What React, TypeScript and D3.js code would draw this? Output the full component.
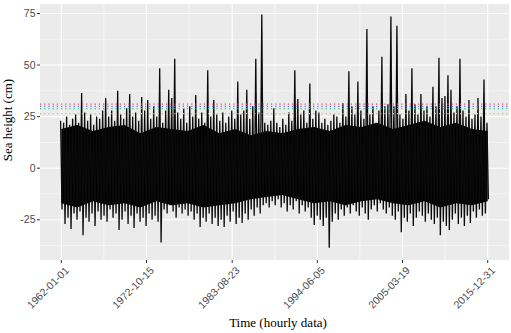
import React from "react";
import * as d3 from "d3";

// ---- data ----
const startDate = "1962-01-01";
const endDate = "2015-12-31";
const tickLabels = ["1962-01-01", "1972-10-15", "1983-08-23", "1994-06-05", "2005-03-19", "2015-12-31"];
const yTicks = [-25, 0, 25, 50, 75];
const yMinor = [-37.5, -12.5, 12.5, 37.5, 62.5];

// per-period maxima / minima of the hourly series (cm), evenly spaced in time from start to end
const seriesMax = [
  23, 22, 25, 21, 24, 26, 22, 36.5, 27, 23, 26, 21, 25, 24, 28, 34, 25, 28, 23, 37.5,
  26, 24, 29, 36, 25, 27, 23, 34.5, 28, 33, 24, 30, 25, 48.5, 22, 28, 38, 34, 53, 27,
  24, 29, 22, 30, 25, 35.5, 24, 27, 22, 47.5, 25, 33, 26, 23, 27, 22, 25, 28, 24, 42,
  26, 28, 38, 24, 30, 53, 27, 74.5, 22, 21, 23, 29, 22, 20, 24, 21, 27, 23, 47.5, 33.5,
  26, 28, 22, 41, 24, 28, 27, 22, 24, 21, 23, 26, 25, 22, 31.5, 25, 47, 30, 26, 42,
  28, 24, 67.5, 26, 30, 22, 28, 54, 30, 31, 73.5, 30, 69, 26, 24, 36, 28, 48.5, 31, 26,
  36, 28, 30, 25, 39.5, 30, 53.5, 34, 35, 45, 38, 27, 30, 53, 28, 25, 33, 24, 26, 34,
  25, 43, 22,
];
const seriesMin = [
  -20, -27, -24, -29.5, -22, -25, -21, -32.5, -24, -26, -22, -28, -21, -25, -23, -26, -20, -24, -22, -30,
  -25, -21, -27, -23, -29, -22, -26, -24, -28, -22, -25, -23, -26, -36, -20, -22, -18, -21, -24, -19,
  -22, -20, -23, -21, -25, -22, -28.5, -24, -26, -22, -27, -24, -28, -25, -28.5, -23, -26, -21, -27, -24,
  -26.5, -22, -25, -20, -23, -19, -22, -18, -17, -19, -16, -18, -15, -19, -17, -21, -18, -20, -16, -22,
  -18, -21, -19, -24, -27.5, -23, -25, -28, -24, -38.5, -26, -22, -25, -20, -23, -19, -22, -18, -21, -23,
  -19, -22, -25, -20, -18, -21, -17, -20, -22, -19, -23, -25, -21, -31, -24, -26, -22, -28, -24, -21,
  -23, -26, -22, -25, -27, -24, -32.5, -26, -28, -30, -25, -22, -27, -24, -28, -23, -26.5, -21, -24, -20,
  -23, -22, -15,
];
// dense (solid) core of the band, evenly spaced in time
const coreMax = [19, 21, 18, 20, 21, 17, 20, 19, 18, 21, 17, 19, 16, 18, 17, 19, 20, 18, 21, 20, 22, 19, 21, 23, 20, 22, 19, 18];
const coreMin = [-17, -19, -16, -18, -17, -19, -16, -18, -17, -19, -18, -17, -15, -14, -13, -15, -17, -16, -18, -16, -15, -17, -18, -16, -19, -17, -18, -16];

const thresholdValues = [31.1, 30.0, 28.9, 26.5];
const thresholdColors = ["#E8466A", "#5A6FE8", "#35C08A", "#F2B548"];

// ---- layout ----
const W = 511, H = 333;
const P = { left: 40, right: 509, top: 4, bottom: 260 };

export default function App() {
  const parse = d3.utcParse("%Y-%m-%d");
  const t0 = parse(startDate)!.getTime();
  const t1 = parse(endDate)!.getTime();
  const span = t1 - t0;
  const x = d3.scaleUtc()
    .domain([new Date(t0 - span * 0.05), new Date(t1 + span * 0.05)])
    .range([P.left, P.right]);
  const y = d3.scaleLinear().domain([-44.5, 79.6]).range([P.bottom, P.top]);

  const n = seriesMax.length;
  const binDate = (i: number, count: number) => new Date(t0 + (span * i) / (count - 1));

  const coreData = coreMax.map((v, i) => ({ d: binDate(i, coreMax.length), hi: v, lo: coreMin[i] }));
  const area = d3.area<{ d: Date; hi: number; lo: number }>()
    .x((p) => x(p.d))
    .y0((p) => y(p.lo))
    .y1((p) => y(p.hi))
    .curve(d3.curveLinear);

  // the hourly trace rendered as an up/down zigzag through each period's max and min
  const zig: [number, number][] = [];
  seriesMax.forEach((v, i) => {
    const px = x(binDate(i, n));
    zig.push([px - 0.7, y(v)]);
    zig.push([px + 0.7, y(seriesMin[i])]);
  });
  const linePath = d3.line()(zig) || "";

  const ticks = tickLabels.map((s) => parse(s)!);
  const step = ticks[1].getTime() - ticks[0].getTime();
  const minorX: Date[] = [];
  for (let i = -1; i < ticks.length; i++) {
    const a = i < 0 ? ticks[0].getTime() - step : ticks[i].getTime();
    minorX.push(new Date(a + step / 2));
  }

  const gray = "#4D4D4D";
  const sans = "Liberation Sans, Arial, sans-serif";
  const serif = "Liberation Serif, Times New Roman, serif";

  return (
    <svg width={W} height={H} style={{ position: "absolute", left: 0, top: 0, background: "#fff" }}>
      <defs>
        <clipPath id="panel">
          <rect x={P.left} y={P.top} width={P.right - P.left} height={P.bottom - P.top} />
        </clipPath>
      </defs>
      <rect x={P.left} y={P.top} width={P.right - P.left} height={P.bottom - P.top} fill="#EBEBEB" />
      <g clipPath="url(#panel)">
        {yMinor.map((v) => (
          <line key={"ym" + v} x1={P.left} x2={P.right} y1={y(v)} y2={y(v)} stroke="#fff" strokeWidth={0.55} />
        ))}
        {minorX.map((d, i) => (
          <line key={"xm" + i} x1={x(d)} x2={x(d)} y1={P.top} y2={P.bottom} stroke="#fff" strokeWidth={0.55} />
        ))}
        {yTicks.map((v) => (
          <line key={"yg" + v} x1={P.left} x2={P.right} y1={y(v)} y2={y(v)} stroke="#fff" strokeWidth={1.1} />
        ))}
        {ticks.map((d, i) => (
          <line key={"xg" + i} x1={x(d)} x2={x(d)} y1={P.top} y2={P.bottom} stroke="#fff" strokeWidth={1.1} />
        ))}
        <path d={area(coreData) || ""} fill="#000" />
        <path d={linePath} fill="none" stroke="#0a0a0a" strokeWidth={1.3} strokeLinejoin="miter" strokeMiterlimit={2} />
        {thresholdValues.map((v, i) => (
          <line key={"th" + i} x1={P.left} x2={P.right} y1={y(v)} y2={y(v)}
            stroke={thresholdColors[i]} strokeWidth={1.2} strokeDasharray="1.2 3" />
        ))}
      </g>
      {/* y axis */}
      {yTicks.map((v) => (
        <g key={"yt" + v}>
          <line x1={P.left - 3} x2={P.left} y1={y(v)} y2={y(v)} stroke="#333" strokeWidth={1} />
          <text x={P.left - 4.5} y={y(v)} dy="0.35em" textAnchor="end" fontSize={10.5} fill={gray} fontFamily={sans}>{v}</text>
        </g>
      ))}
      {/* x axis */}
      {ticks.map((d, i) => (
        <g key={"xt" + i}>
          <line x1={x(d)} x2={x(d)} y1={P.bottom} y2={P.bottom + 3} stroke="#333" strokeWidth={1} />
          <text transform={`translate(${x(d) + 3},${P.bottom + 6}) rotate(-45)`} textAnchor="end" dy="0.7em"
            fontSize={10.5} fill={gray} fontFamily={sans}>{tickLabels[i]}</text>
        </g>
      ))}
      <text x={278} y={327} textAnchor="middle" fontSize={13} fill="#000" fontFamily={serif}>Time (hourly data)</text>
      <text transform={`translate(12,120) rotate(-90)`} textAnchor="middle" fontSize={13} fill="#000" fontFamily={serif}>Sea height (cm)</text>
    </svg>
  );
}
